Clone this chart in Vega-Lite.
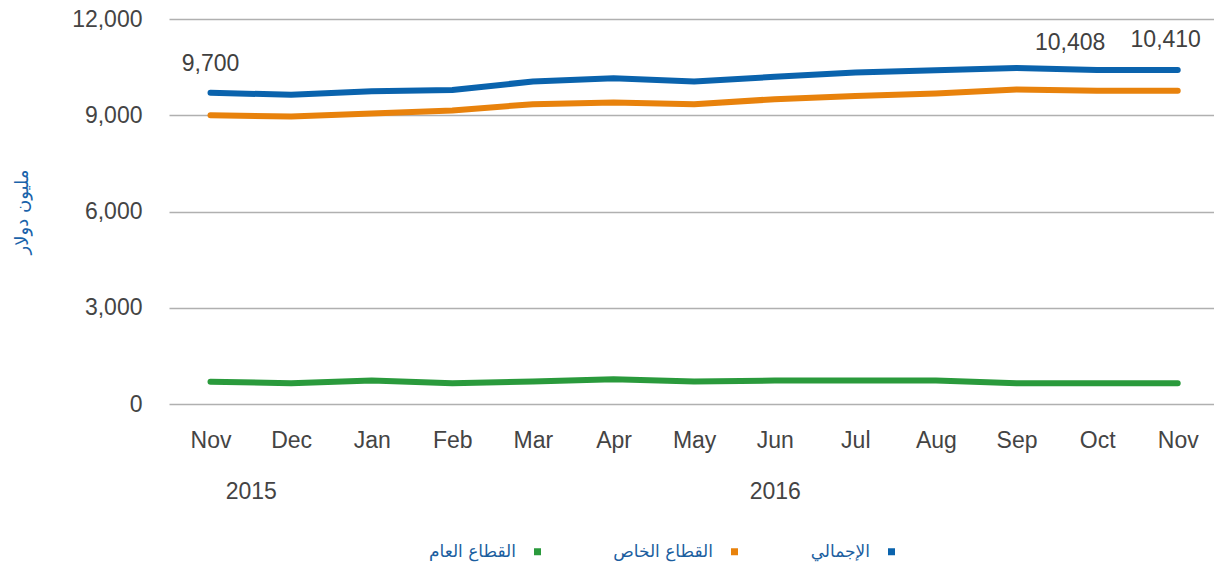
{
  "$schema": "https://vega.github.io/schema/vega-lite/v6.json",
  "autosize": "none",
  "width": 1045,
  "height": 385,
  "padding": {"left": 169, "top": 19, "right": 0, "bottom": 161},
  "background": "white",
  "config": {
    "view": {"stroke": null},
    "axis": {"labelFont": "Liberation Sans", "labelFontSize": 23, "labelColor": "#444444", "ticks": false, "domain": false}
  },
  "data": {"values": [
    {"i": 0, "s": "الإجمالي", "v": 9700},
    {"i": 1, "s": "الإجمالي", "v": 9640},
    {"i": 2, "s": "الإجمالي", "v": 9750},
    {"i": 3, "s": "الإجمالي", "v": 9790},
    {"i": 4, "s": "الإجمالي", "v": 10050},
    {"i": 5, "s": "الإجمالي", "v": 10150},
    {"i": 6, "s": "الإجمالي", "v": 10050},
    {"i": 7, "s": "الإجمالي", "v": 10200},
    {"i": 8, "s": "الإجمالي", "v": 10330},
    {"i": 9, "s": "الإجمالي", "v": 10400},
    {"i": 10, "s": "الإجمالي", "v": 10470},
    {"i": 11, "s": "الإجمالي", "v": 10408},
    {"i": 12, "s": "الإجمالي", "v": 10410},
    {"i": 0, "s": "القطاع الخاص", "v": 9003},
    {"i": 1, "s": "القطاع الخاص", "v": 8960},
    {"i": 2, "s": "القطاع الخاص", "v": 9055},
    {"i": 3, "s": "القطاع الخاص", "v": 9150},
    {"i": 4, "s": "القطاع الخاص", "v": 9345},
    {"i": 5, "s": "القطاع الخاص", "v": 9395},
    {"i": 6, "s": "القطاع الخاص", "v": 9345},
    {"i": 7, "s": "القطاع الخاص", "v": 9500},
    {"i": 8, "s": "القطاع الخاص", "v": 9600},
    {"i": 9, "s": "القطاع الخاص", "v": 9675},
    {"i": 10, "s": "القطاع الخاص", "v": 9800},
    {"i": 11, "s": "القطاع الخاص", "v": 9760},
    {"i": 12, "s": "القطاع الخاص", "v": 9765},
    {"i": 0, "s": "القطاع العام", "v": 697},
    {"i": 1, "s": "القطاع العام", "v": 650},
    {"i": 2, "s": "القطاع العام", "v": 730},
    {"i": 3, "s": "القطاع العام", "v": 650},
    {"i": 4, "s": "القطاع العام", "v": 700},
    {"i": 5, "s": "القطاع العام", "v": 770},
    {"i": 6, "s": "القطاع العام", "v": 700},
    {"i": 7, "s": "القطاع العام", "v": 730},
    {"i": 8, "s": "القطاع العام", "v": 730},
    {"i": 9, "s": "القطاع العام", "v": 730},
    {"i": 10, "s": "القطاع العام", "v": 650},
    {"i": 11, "s": "القطاع العام", "v": 648},
    {"i": 12, "s": "القطاع العام", "v": 645}
  ]},
  "layer": [
    {
      "mark": {"type": "line", "strokeWidth": 6, "strokeCap": "round", "strokeJoin": "round"},
      "encoding": {
        "x": {"field": "i", "type": "quantitative",
          "scale": {"domain": [-0.515, 12.45], "nice": false, "zero": false},
          "axis": {"title": null, "values": [0,1,2,3,4,5,6,7,8,9,10,11,12], "grid": false, "labelPadding": 25, "labelFlush": false, "labelOverlap": false,
            "labelExpr": "['Nov','Dec','Jan','Feb','Mar','Apr','May','Jun','Jul','Aug','Sep','Oct','Nov'][datum.value]"}},
        "y": {"field": "v", "type": "quantitative",
          "scale": {"domain": [0, 12000], "nice": false},
          "axis": {"title": "مليون دولار", "values": [0,3000,6000,9000,12000], "format": ",.0f", "grid": true, "gridColor": "#b0b0b0", "gridWidth": 1.5,
            "labelPadding": 27, "titleFont": "DejaVu Sans", "titleFontSize": 18, "titleFontWeight": "normal", "titleColor": "#1a63aa", "titlePadding": 40}},
        "color": {"field": "s", "type": "nominal",
          "scale": {"domain": ["القطاع العام", "القطاع الخاص", "الإجمالي"], "range": ["#2a9a3c", "#e8820c", "#0a63ad"]},
          "legend": {"orient": "none", "legendX": 360, "legendY": 524, "direction": "horizontal", "title": null,
            "symbolType": "square", "symbolSize": 49, "symbolStrokeWidth": 0,
            "labelFont": "DejaVu Sans", "labelFontSize": 17, "labelColor": "#1b5e9f",
            "labelAlign": "right", "labelOffset": -30, "columnPadding": 72,
            "encode": {"symbols": {"update": {"fill": {"scale": "color", "field": "value"}, "stroke": {"value": "transparent"}}}}}}
      }
    },
    {
      "transform": [{"filter": "datum.s === 'الإجمالي' && datum.i === 0"}],
      "mark": {"type": "text", "dy": -22, "baseline": "alphabetic", "font": "Liberation Sans", "fontSize": 23, "color": "#404040"},
      "encoding": {"x": {"field": "i", "type": "quantitative", "axis": null}, "y": {"field": "v", "type": "quantitative"}, "text": {"field": "v", "type": "quantitative", "format": ","}}
    },
    {
      "transform": [{"filter": "datum.s === 'الإجمالي' && datum.i === 11"}],
      "mark": {"type": "text", "dy": -20, "dx": -27, "baseline": "alphabetic", "font": "Liberation Sans", "fontSize": 23, "color": "#404040"},
      "encoding": {"x": {"field": "i", "type": "quantitative", "axis": null}, "y": {"field": "v", "type": "quantitative"}, "text": {"field": "v", "type": "quantitative", "format": ","}}
    },
    {
      "transform": [{"filter": "datum.s === 'الإجمالي' && datum.i === 12"}],
      "mark": {"type": "text", "dy": -23, "dx": -12, "baseline": "alphabetic", "font": "Liberation Sans", "fontSize": 23, "color": "#404040"},
      "encoding": {"x": {"field": "i", "type": "quantitative", "axis": null}, "y": {"field": "v", "type": "quantitative"}, "text": {"field": "v", "type": "quantitative", "format": ","}}
    },
    {
      "transform": [{"filter": "datum.s === 'الإجمالي'"}],
      "mark": {"type": "rule", "opacity": 0},
      "encoding": {
        "x": {"field": "i", "type": "quantitative",
          "axis": {"orient": "bottom", "title": null, "values": [0.5, 7], "grid": false, "offset": 51, "labelPadding": 25, "labelFlush": false, "labelOverlap": false,
            "labelExpr": "datum.value < 1 ? '2015' : '2016'"}}
      }
    }
  ],
  "resolve": {"axis": {"x": "independent"}}
}
